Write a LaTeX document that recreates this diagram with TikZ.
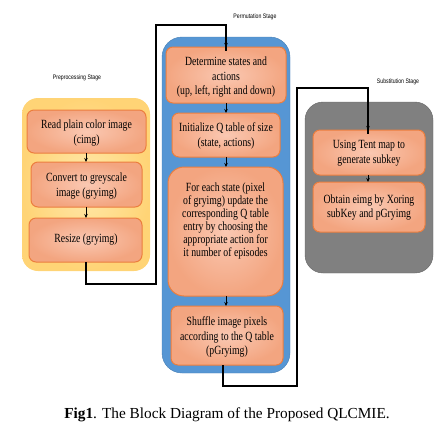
\documentclass[tikz,border=0pt]{standalone}
\usepackage{fontspec}
\setmainfont{Liberation Serif}
\newfontfamily\boxfont[FakeStretch=0.78]{Liberation Serif}
\newfontfamily\lblfont[FakeStretch=0.8]{Liberation Sans}
\usetikzlibrary{arrows.meta}
\definecolor{boxin}{RGB}{250,200,178}
\definecolor{boxout}{RGB}{243,165,128}
\definecolor{boxline}{RGB}{236,126,62}
\definecolor{yel}{RGB}{255,212,118}
\definecolor{yelin}{RGB}{255,232,170}
\definecolor{blu}{RGB}{86,150,212}
\definecolor{gry}{RGB}{128,128,128}
\definecolor{gryline}{RGB}{100,100,100}
\tikzset{
  stepbox/.style={draw=boxline, line width=1pt, rounded corners=7pt,
    inner color=boxin, outer color=boxout},
  boxtext/.style={align=center, font=\boxfont\fontsize{12.5}{14.5}\selectfont, inner sep=0pt},
  stagelbl/.style={font=\lblfont\fontsize{6.5}{7}\selectfont, inner sep=0pt},
  conn/.style={black, line width=1.3pt},
  arr/.style={black, line width=1pt, -{Stealth[length=4pt,width=3.5pt]}},
}
\begin{document}
\begin{tikzpicture}[x=1pt,y=-1pt]
\useasboundingbox (0,0) rectangle (443,437);
% containers
\path[inner color=yelin, outer color=yel, rounded corners=16pt] (22,98) rectangle (150,271);
\path[fill=blu, draw=blu!85!black, rounded corners=20pt] (162,37) rectangle (290,373);
\path[fill=gry, draw=gryline, rounded corners=18pt] (305,102) rectangle (433,273);
% preprocessing boxes
\draw[stepbox] (27,110) rectangle (146,153);
\node[boxtext] (read) at (86.5,133) {Read plain color image\\(cimg)};
\coordinate (readS) at (86,153);
\draw[stepbox] (31,162) rectangle (142,207);
\node[boxtext] (conv) at (86.5,186) {Convert to greyscale\\image (gryimg)};
\coordinate (convN) at (86,162);
\coordinate (convS) at (86,207);
\draw[stepbox] (29,218) rectangle (142,262);
\node[boxtext] (resize) at (86,240) {Resize (gryimg)};
\coordinate (resN) at (86,218);
\coordinate (resS) at (86,262);
% permutation boxes
\draw[stepbox] (166,47) rectangle (286,103);
\node[boxtext] (det) at (226,77.5) {Determine states and\\actions\\(up, left, right and down)};
\coordinate (detN) at (226,47);
\coordinate (detS) at (226,103);
\draw[stepbox] (172,113) rectangle (280,157);
\node[boxtext] (init) at (226,136) {Initialize Q table of size\\(state, actions)};
\coordinate (initN) at (226,113);
\coordinate (initS) at (226,157);
\draw[stepbox, rounded corners=16pt] (168,167) rectangle (283,296);
\node[boxtext, font=\boxfont\fontsize{12.5}{13}\selectfont] (each) at (225.5,221) {For each state (pixel\\of gryimg) update the\\corresponding Q table\\entry by choosing the\\appropriate action for\\it number of episodes};
\coordinate (eachN) at (226,167);
\coordinate (eachS) at (226,296);
\draw[stepbox] (171,306) rectangle (283,365);
\node[boxtext] (shuf) at (227,337) {Shuffle image pixels\\according to the Q table\\(pGryimg)};
\coordinate (shufN) at (226,306);
\coordinate (shufS) at (223,365);
% substitution boxes
\draw[stepbox] (313,130) rectangle (425,175);
\node[boxtext] (tent) at (369,153) {Using Tent map to\\generate subkey};
\coordinate (tentN) at (368,130);
\coordinate (tentS) at (368,175);
\draw[stepbox] (313,182) rectangle (425,232);
\node[boxtext] (xor) at (369,207.5) {Obtain eimg by Xoring\\subKey and pGryimg};
\coordinate (xorN) at (368,182);
% inner arrows
\draw[arr] (readS) -- (convN);
\draw[arr] (convS) -- (resN);
\draw[arr] (detS) -- (initN);
\draw[arr] (initS) -- (eachN);
\draw[arr] (eachS) -- (shufN);
\draw[arr] (tentS) -- (xorN);
% long connectors
\coordinate (c1) at (86,284);
\coordinate (c2) at (156,284);
\coordinate (c3) at (156,25);
\coordinate (c4) at (226,25);
\draw[conn] (resS) -- (c1) -- (c2) -- (c3) -- (c4) -- ([yshift=-4pt]detN);
\draw[arr] (c4) -- (detN);
\coordinate (d1) at (223,386);
\coordinate (d2) at (297,386);
\coordinate (d3) at (297,88);
\coordinate (d4) at (368,88);
\draw[conn] (shufS) -- (d1) -- (d2) -- (d3) -- (d4) -- ([yshift=-4pt]tentN);
\draw[arr] (d4) -- (tentN);
% stage labels
\node[stagelbl] (lpre) at (77,78) {Preprocessing Stage};
\node[stagelbl] (lperm) at (255,17) {Permutation Stage};
\node[stagelbl] (lsub) at (398,82) {Substitution Stage};
% caption
\node[font=\fontsize{15.3}{17}\selectfont, inner sep=0pt] (cap) at (227,415) {\textbf{Fig1}. The Block Diagram of the Proposed QLCMIE.};
\end{tikzpicture}
\end{document}
